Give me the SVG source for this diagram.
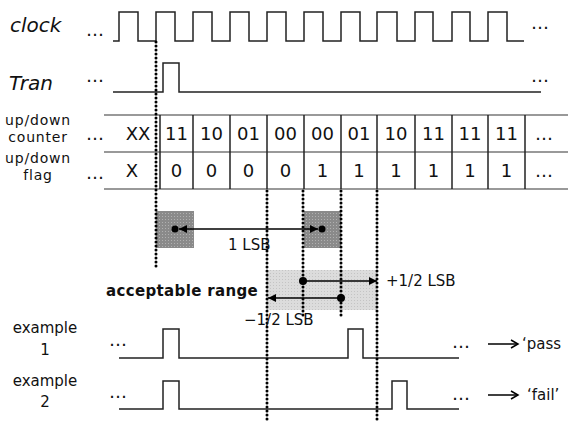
<svg xmlns="http://www.w3.org/2000/svg" width="568" height="421" viewBox="0 0 568 421">
<style>
text{font-family:"DejaVu Sans","Verdana",sans-serif;fill:#111}
.lab{font-size:20px;font-style:italic}
.sm{font-size:14px;letter-spacing:0.8px}
.val{font-size:18px;text-anchor:middle}
.mid{text-anchor:middle}
.t15{font-size:15px}
.el{font-size:18px}
.wave{fill:none;stroke:#222;stroke-width:1.5}
.grid{stroke:#777;stroke-width:1.5}
.vert{stroke:#222;stroke-width:1.5}
.dot{stroke:#000;stroke-width:3;stroke-linecap:round;stroke-dasharray:0 4;fill:none}
.arr{stroke:#000;stroke-width:1.5;fill:none}
</style>
<defs>
<pattern id="pd" width="3" height="3" patternUnits="userSpaceOnUse">
<rect width="3" height="3" fill="#8a8a8a"/><rect width="1" height="1" fill="#b0b0b0"/>
</pattern>
<pattern id="pl" width="3" height="3" patternUnits="userSpaceOnUse">
<rect width="3" height="3" fill="#dcdcdc"/><rect width="1" height="1" fill="#c4c4c4"/>
</pattern>
<marker id="ah" viewBox="0 0 10 10" refX="10" refY="5" markerWidth="8" markerHeight="8" markerUnits="userSpaceOnUse" orient="auto-start-reverse">
<path d="M0,0 L10,5 L0,10 z" fill="#000"/>
</marker>
</defs>

<g id="labels">
<text class="lab" x="10" y="32">clock</text>
<text class="lab" x="9" y="90">Tran</text>
<text class="sm mid" x="38" y="125">up/down</text>
<text class="sm mid" x="38" y="142">counter</text>
<text class="sm mid" x="38" y="163">up/down</text>
<text class="sm mid" x="38" y="180">flag</text>
<text class="t15 mid" x="45" y="333">example</text>
<text class="t15 mid" x="45" y="355">1</text>
<text class="t15 mid" x="45" y="386">example</text>
<text class="t15 mid" x="45" y="407">2</text>
</g>

<g id="ellipses" class="el">
<text x="86" y="36">…</text>
<text x="531" y="29">…</text>
<text x="86" y="82">…</text>
<text x="531" y="82">…</text>
<text x="86" y="140">…</text>
<text x="86" y="179">…</text>
<text x="109" y="346">…</text>
<text x="109" y="398">…</text>
<text x="452" y="348">…</text>
<text x="452" y="400">…</text>
</g>

<g id="shading">
<rect x="156" y="211" width="38" height="37" fill="url(#pd)"/>
<rect x="304" y="211" width="37" height="37" fill="url(#pd)"/>
<rect x="267" y="270" width="110" height="40" fill="url(#pl)"/>
</g>

<g id="clock">
<path class="wave" d="M113,41 H119 V12 H138 V41 H156 V12 H175 V41 H193 V12 H212 V41 H230 V12 H249 V41 H267 V12 H286 V41 H304 V12 H323 V41 H341 V12 H360 V41 H377 V12 H397 V41 H415 V12 H433 V41 H452 V12 H470 V41 H488 V12 H507 V41 H524"/>
</g>

<g id="tran">
<path class="wave" d="M113,92 H163 V63 H179 V92 H541"/>
</g>

<g id="table">
<line class="grid" x1="104" y1="115" x2="568" y2="115"/>
<line class="grid" x1="104" y1="152" x2="568" y2="152"/>
<line class="grid" x1="104" y1="189" x2="568" y2="189"/>
<g class="vert">
<line x1="160" y1="115" x2="160" y2="189"/>
<line x1="193" y1="115" x2="193" y2="189"/>
<line x1="230" y1="115" x2="230" y2="189"/>
<line x1="267" y1="115" x2="267" y2="189"/>
<line x1="304" y1="115" x2="304" y2="189"/>
<line x1="341" y1="115" x2="341" y2="189"/>
<line x1="377" y1="115" x2="377" y2="189"/>
<line x1="415" y1="115" x2="415" y2="189"/>
<line x1="452" y1="115" x2="452" y2="189"/>
<line x1="488" y1="115" x2="488" y2="189"/>
<line x1="525" y1="115" x2="525" y2="189"/>
</g>
<g class="val">
<text x="138" y="140">XX</text>
<text x="176.5" y="140">11</text>
<text x="211.5" y="140">10</text>
<text x="248.5" y="140">01</text>
<text x="285.5" y="140">00</text>
<text x="322.5" y="140">00</text>
<text x="359" y="140">01</text>
<text x="396" y="140">10</text>
<text x="433.5" y="140">11</text>
<text x="470" y="140">11</text>
<text x="506.5" y="140">11</text>
<text x="544" y="140">…</text>
<text x="132" y="177">X</text>
<text x="176.5" y="177">0</text>
<text x="211.5" y="177">0</text>
<text x="248.5" y="177">0</text>
<text x="285.5" y="177">0</text>
<text x="322.5" y="177">1</text>
<text x="359" y="177">1</text>
<text x="396" y="177">1</text>
<text x="433.5" y="177">1</text>
<text x="470" y="177">1</text>
<text x="506.5" y="177">1</text>
<text x="544" y="177">…</text>
</g>
</g>

<g id="examples">
<path class="wave" d="M119,358 H163 V329 H179 V358 H348 V329 H363 V358 H459"/>
<path class="wave" d="M119,409 H163 V381 H179 V409 H392 V381 H407 V409 H459"/>
</g>

<g id="connectors">
<line class="dot" x1="156" y1="42" x2="156" y2="270"/>
<line class="dot" x1="267" y1="191" x2="267" y2="421"/>
<line class="dot" x1="303" y1="191" x2="303" y2="318"/>
<line class="dot" x1="341" y1="191" x2="341" y2="318"/>
<line class="dot" x1="377" y1="191" x2="377" y2="421"/>
<line class="arr" x1="179" y1="229" x2="318" y2="229" marker-start="url(#ah)" marker-end="url(#ah)"/>
<circle cx="175" cy="229" r="3.5"/>
<circle cx="322" cy="229" r="3.5"/>
<line class="arr" x1="303" y1="281" x2="377" y2="281" marker-end="url(#ah)"/>
<circle cx="303" cy="281" r="4"/>
<line class="arr" x1="341" y1="298" x2="268" y2="298" marker-end="url(#ah)"/>
<circle cx="341" cy="298" r="4"/>
<line class="arr" x1="488" y1="344" x2="518" y2="344"/>
<polyline class="arr" points="511,340 518,344 511,348"/>
<line class="arr" x1="488" y1="395" x2="518" y2="395"/>
<polyline class="arr" points="511,391 518,395 511,399"/>
</g>

<g id="annotations">
<text class="t15" x="228" y="250">1 LSB</text>
<text class="t15" x="386" y="286">+1/2 LSB</text>
<text class="t15" x="244" y="325">−1/2 LSB</text>
<text class="t15" x="106" y="296" font-weight="bold" letter-spacing="0.35">acceptable range</text>
<text class="t15" x="522" y="349">‘pass</text>
<text class="t15" x="527" y="400">‘fail’</text>
</g>
</svg>
